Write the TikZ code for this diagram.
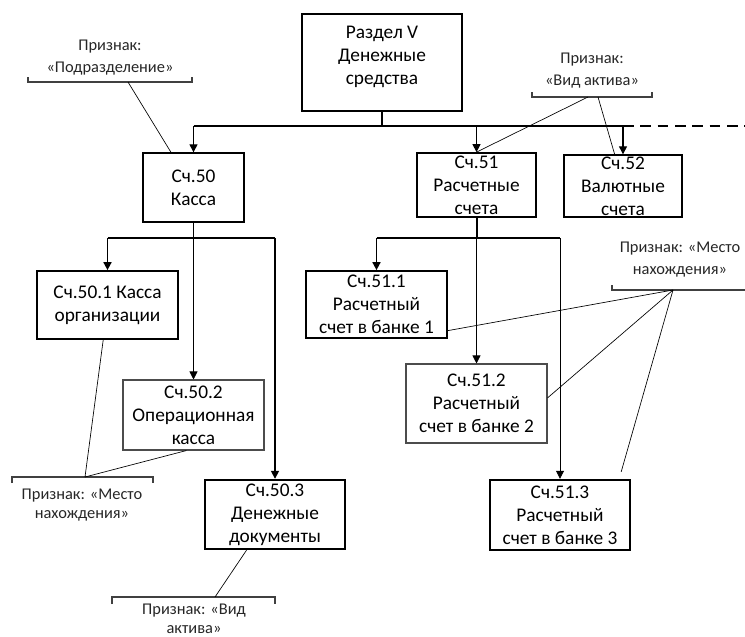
\documentclass[tikz,border=0pt]{standalone}
\usepackage{fontspec}
\setmainfont{Carlito}
\usetikzlibrary{arrows.meta,calc,positioning}

\begin{document}
\begin{tikzpicture}[x=0.75pt,y=-0.75pt,
    acc/.style={draw, line width=1pt, align=center, inner sep=0pt, font=\fontsize{14.5}{17.25}\selectfont},
    lbl/.style={align=center, inner sep=0pt, font=\fontsize{12.3}{16.5}\selectfont, text=black!85},
    brk/.style={draw=black!75, line width=0.9pt},
    tie/.style={draw, line width=0.5pt},
    arr/.style={-{Triangle[width=6pt,length=6pt]}}]
    \useasboundingbox (0,0) rectangle (745,636);

    \node[acc, line width=1.5pt, minimum width=120pt, minimum height=72.75pt] (razd) at (382,62.5) {Раздел V\\Денежные\\средства\\[-6pt]\mbox{}};
    \node[acc, minimum width=75.75pt, minimum height=51.75pt] (s50) at (193.5,187.5) {Сч.50\\Касса};
    \node[acc, line width=1.3pt, minimum width=89.25pt, minimum height=48pt] (s51) at (476.5,185) {Сч.51\\Расчетные\\счета};
    \node[acc, minimum width=88.5pt, minimum height=46.5pt] (s52) at (623,186) {Сч.52\\Валютные\\счета};
    \node[acc, line width=1.3pt, minimum width=105.75pt, minimum height=51pt] (s501) at (107.5,305) {Сч.50.1 Касса\\организации};
    \node[acc, draw=black!70, line width=0.8pt, minimum width=105.75pt, minimum height=52.5pt] (s502) at (193.5,415) {Сч.50.2\\Операционная\\касса};
    \node[acc, line width=1.8pt, minimum width=105pt, minimum height=51.75pt] (s503) at (275,514.5) {Сч.50.3\\Денежные\\документы};
    \node[acc, line width=1.3pt, minimum width=105.75pt, minimum height=50.25pt] (s511) at (376.5,304.5) {Сч.51.1\\Расчетный\\счет в банке 1};
    \node[acc, draw=black!70, line width=0.8pt, minimum width=105.75pt, minimum height=59.25pt] (s512) at (476.5,403.5) {Сч.51.2\\Расчетный\\счет в банке 2};
    \node[acc, line width=1.8pt, minimum width=105pt, minimum height=52.5pt] (s513) at (560,515) {Сч.51.3\\Расчетный\\счет в банке 3};

    % признаки
    \node[lbl] (pPodr) at (110,58) {Признак:\\«Подразделение»};
    \node[lbl] (pVid) at (592,71) {Признак:\\«Вид актива»};
    \node[lbl, font=\fontsize{12.3}{14.5}\selectfont] (pMestoL) at (82,505) {Признак: «Место\\нахождения»};
    \node[lbl, font=\fontsize{12.3}{14.5}\selectfont] (pVidB) at (194,619) {Признак: «Вид\\актива»};
    \node[lbl] (pMestoR) at (680,260) {Признак: «Место\\нахождения»};

    \draw[brk] (28,77) -- (28,82) -- (192,82) -- (192,77);
    \draw[brk] (532,92) -- (532,97) -- (652,97) -- (652,92);
    \draw[brk] (12,483) -- (12,477) -- (153,477) -- (153,483);
    \draw[brk] (112,604) -- (112,597) -- (275,597) -- (275,604);
    \draw[brk] (612,285) -- (612,290) -- (745,290);
    \coordinate (bPodr) at (128,82);
    \coordinate (bVid1) at (588,97);
    \coordinate (bVid2) at (598,97);
    \coordinate (bMestoL) at (85,477);
    \coordinate (bVidB) at (215,597);
    \coordinate (bMestoR) at (673,290);

    % first level
    \coordinate (bus1) at (383,126);
    \coordinate (busEnd) at (745,126);
    \draw[line width=1.5pt] (razd.south) -- (razd.south |- bus1);
    \draw[line width=1pt] (s50.north |- bus1) -- (s52.north |- bus1);
    \draw[line width=1pt, dash pattern=on 8pt off 5pt] (s52.north |- bus1) -- (busEnd);
    \foreach \n in {s50,s51,s52}
        \draw[arr, line width=0.8pt] (\n.north |- bus1) -- (\n.north);

    % second level
    \coordinate (bus2) at (0,238);
    \draw[line width=0.6pt] (s50.south) -- (s50.south |- bus2);
    \draw[line width=1.5pt] (s501.north |- bus2) -- (s503.north |- bus2);
    \draw[arr, line width=1.2pt] (s501.north |- bus2) -- (s501.north);
    \draw[arr, line width=0.6pt] (s50.south |- bus2) -- (s502.north);
    \draw[arr, line width=1.2pt] (s503.north |- bus2) -- (s503.north);

    \draw[line width=1.5pt] (s51.south) -- (s51.south |- bus2);
    \draw[line width=1.5pt] (s511.north |- bus2) -- (s513.north |- bus2);
    \draw[arr, line width=1.2pt] (s511.north |- bus2) -- (s511.north);
    \draw[arr, line width=0.6pt] (s51.south |- bus2) -- (s512.north);
    \draw[arr, line width=0.6pt] (s513.north |- bus2) -- (s513.north);

    % links to the signs
    \draw[tie] (bPodr) -- ($(s50.north west)!0.28!(s50.north east)$);
    \draw[tie] (bVid1) -- (s51.north);
    \draw[tie] (bVid2) -- ($(s52.north west)!0.43!(s52.north east)$);
    \draw[tie] (bMestoL) -- ($(s501.south west)!0.47!(s501.south east)$);
    \draw[tie] (bMestoL) -- ($(s502.south west)!0.45!(s502.south east)$);
    \draw[tie] (bVidB) -- ($(s503.south west)!0.3!(s503.south east)$);
    \draw[tie] (bMestoR) -- ($(s511.south east)!0.12!(s511.north east)$);
    \draw[tie] (bMestoR) -- ($(s512.south east)!0.57!(s512.north east)$);
    \draw[tie] (bMestoR) -- ($(s513.north east)+(-10,-7)$);
\end{tikzpicture}
\end{document}
